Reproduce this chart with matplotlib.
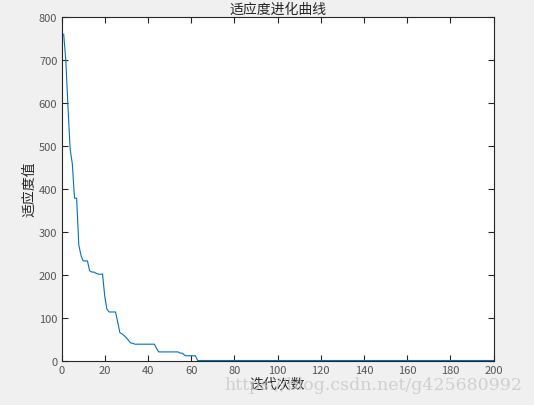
import matplotlib
matplotlib.use("Agg")
import matplotlib.pyplot as plt
import numpy as np

plt.rcParams['font.family'] = ['Noto Sans CJK SC', 'DejaVu Sans']

# fitness values read per iteration (1..63), zero afterwards up to 200
head = [760, 698, 590, 492, 458, 378, 378, 269, 245, 232,
        232, 232, 209, 206, 206, 203, 201, 201, 201, 150,
        120, 113, 113, 113, 113, 90, 65, 62, 58, 53,
        47, 41, 40, 38, 38, 38, 38, 38, 38, 38,
        38, 38, 38, 28, 20, 20, 20, 20, 20, 20,
        20, 20, 20, 20, 17, 17, 12, 11, 11, 11,
        11, 11, 0]
iters = np.arange(1, 201)
fitness = np.array(head + [0] * (200 - len(head)))

title = '适应度进化曲线'
xlabel = '迭代次数'
ylabel = '适应度值'
xticks = np.arange(0, 201, 20)
yticks = np.arange(0, 801, 100)

fig = plt.figure(figsize=(5.34, 4.06), dpi=100, facecolor='#f0f0f0')
ax = fig.add_axes([0.1152, 0.1096, 0.8090, 0.8461])
ax.plot(iters, fitness, color='#0072BD', linewidth=0.8)

ax.set_xlim(0, 200)
ax.set_ylim(0, 800)
ax.set_xticks(xticks)
ax.set_yticks(yticks)
ax.tick_params(direction='in', top=True, right=True, length=4, width=0.8,
               labelsize=8, labelcolor='#555555', color='#262626', pad=3)
for s in ax.spines.values():
    s.set_color('#262626')
    s.set_linewidth(0.8)

ax.set_title(title, fontsize=10, color='#262626', pad=3)
ax.set_xlabel(xlabel, fontsize=10, color='#262626', labelpad=1)
ax.set_ylabel(ylabel, fontsize=10, color='#262626', labelpad=2)

fig.text(0.978, 0.05, 'https://blog.csdn.net/g425680992', ha='right', va='center',
         fontsize=12.5, color='#c8c8c8', alpha=0.8, family=['DejaVu Serif'])

fig.savefig('out.png', dpi=100, facecolor=fig.get_facecolor())
